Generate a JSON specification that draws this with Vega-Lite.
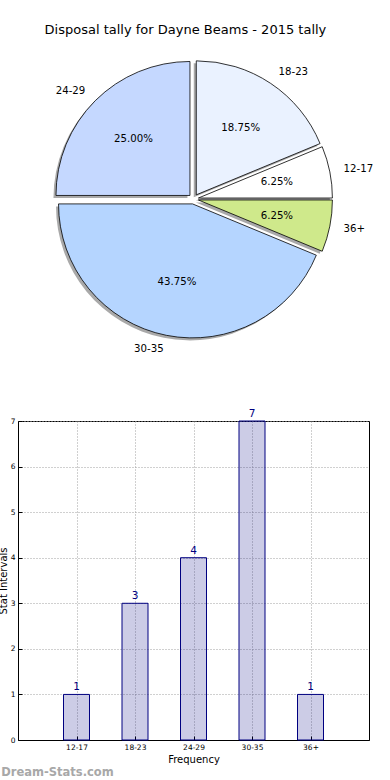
{
  "$schema": "https://vega.github.io/schema/vega-lite/v6.json",
  "padding": {"left": -3, "top": 24, "right": 0, "bottom": 0},
  "bounds": "flush",
  "spacing": 73,
  "config": {
    "font": "DejaVu Sans",
    "view": {"stroke": null},
    "axis": {"labelFont": "DejaVu Sans", "titleFont": "DejaVu Sans"}
  },
  "title": {
    "text": "Disposal tally for Dayne Beams - 2015 tally",
    "fontSize": 13,
    "fontWeight": "normal",
    "color": "#000000",
    "anchor": "middle",
    "offset": 13
  },
  "datasets": {
    "tally": [
      {"range": "12-17", "count": 1},
      {"range": "18-23", "count": 3},
      {"range": "24-29", "count": 4},
      {"range": "30-35", "count": 7},
      {"range": "36+", "count": 1}
    ]
  },
  "vconcat": [
    {
      "width": 351,
      "height": 298,
      "data": {"name": "tally"},
      "transform": [
        {"joinaggregate": [{"op": "sum", "field": "count", "as": "total"}]},
        {"calculate": "datum.count / datum.total", "as": "share"}
      ],
      "encoding": {
        "theta": {"field": "count", "type": "quantitative", "stack": true,
                  "scale": {"range": [1.5707963, -4.712389]}},
        "order": {"field": "range", "type": "nominal", "sort": "ascending"}
      },
      "layer": [
        {
          "mark": {
            "type": "arc", "radius": 134, "fill": "#707070", "fillOpacity": 0.6, "stroke": null,
            "xOffset": {"expr": "-2.5 + 5*cos(PI*(datum.count_start + datum.count_end)/datum.total)"},
            "yOffset": {"expr": "2.5 - 5*sin(PI*(datum.count_start + datum.count_end)/datum.total)"}
          }
        },
        {
          "mark": {
            "type": "arc", "radius": 134, "stroke": "#000000", "strokeWidth": 0.8,
            "xOffset": {"expr": "5*cos(PI*(datum.count_start + datum.count_end)/datum.total)"},
            "yOffset": {"expr": "-5*sin(PI*(datum.count_start + datum.count_end)/datum.total)"}
          },
          "encoding": {
            "color": {"field": "range", "type": "nominal", "legend": null,
                      "scale": {"domain": ["12-17", "18-23", "24-29", "30-35", "36+"],
                                "range": ["#ffffff", "#eaf2ff", "#c5d8ff", "#b5d5ff", "#cfe98b"]}}
          }
        },
        {
          "mark": {
            "type": "text", "radius": 80, "fontSize": 10.2, "color": "#000000", "align": "center", "baseline": "middle",
            "dx": {"expr": "5*cos(PI*(datum.count_start + datum.count_end)/datum.total)"},
            "dy": {"expr": "-5*sin(PI*(datum.count_start + datum.count_end)/datum.total)"}
          },
          "encoding": {
            "text": {"field": "share", "type": "quantitative", "format": ".2%"}
          }
        },
        {
          "mark": {
            "type": "text", "radius": 148, "fontSize": 10.2, "color": "#000000", "baseline": "middle",
            "align": {"expr": "cos(PI*(datum.count_start + datum.count_end)/datum.total) > 0 ? 'left' : 'right'"},
            "dx": {"expr": "5*cos(PI*(datum.count_start + datum.count_end)/datum.total)"},
            "dy": {"expr": "-5*sin(PI*(datum.count_start + datum.count_end)/datum.total)"}
          },
          "encoding": {
            "text": {"field": "range", "type": "nominal"}
          }
        }
      ]
    },
    {
      "width": 351,
      "height": 319,
      "view": {"stroke": "#000000", "strokeWidth": 1},
      "data": {"name": "tally"},
      "title": {
        "text": "Dream-Stats.com",
        "orient": "bottom",
        "anchor": "start",
        "frame": "bounds",
        "dx": 3,
        "fontSize": 11.5,
        "fontWeight": "bold",
        "color": "#a8a8a8",
        "offset": 2
      },
      "encoding": {
        "x": {
          "field": "range", "type": "nominal",
          "scale": {"type": "point", "padding": 1},
          "axis": {
            "title": "Frequency", "titleFontSize": 10, "titleFontWeight": "normal", "titleColor": "#000000", "titlePadding": 4,
            "labelAngle": 0, "labelFontSize": 7.5, "labelColor": "#000000", "labelPadding": 7,
            "tickSize": -4, "tickColor": "#000000", "domainColor": "#000000",
            "grid": true, "gridDash": [1, 2], "gridColor": "#a0a0a0", "gridWidth": 1
          }
        },
        "y": {
          "field": "count", "type": "quantitative",
          "scale": {"domain": [0, 7], "nice": false},
          "axis": {
            "title": "Stat Intervals", "titleFontSize": 10, "titleFontWeight": "normal", "titleColor": "#000000", "titlePadding": 2,
            "values": [0, 1, 2, 3, 4, 5, 6, 7], "format": "d",
            "labelFontSize": 7.5, "labelColor": "#000000", "labelPadding": 7,
            "tickSize": -4, "tickColor": "#000000", "domainColor": "#000000",
            "grid": true, "gridDash": [1, 2], "gridColor": "#a0a0a0", "gridWidth": 1
          }
        }
      },
      "layer": [
        {
          "mark": {"type": "bar", "width": 26, "fill": "#000080", "fillOpacity": 0.2, "stroke": "#000080", "strokeWidth": 1}
        },
        {
          "mark": {"type": "text", "baseline": "bottom", "dy": -2, "fontSize": 10.5, "color": "#000080"},
          "encoding": {"text": {"field": "count", "type": "quantitative"}}
        }
      ]
    }
  ]
}
